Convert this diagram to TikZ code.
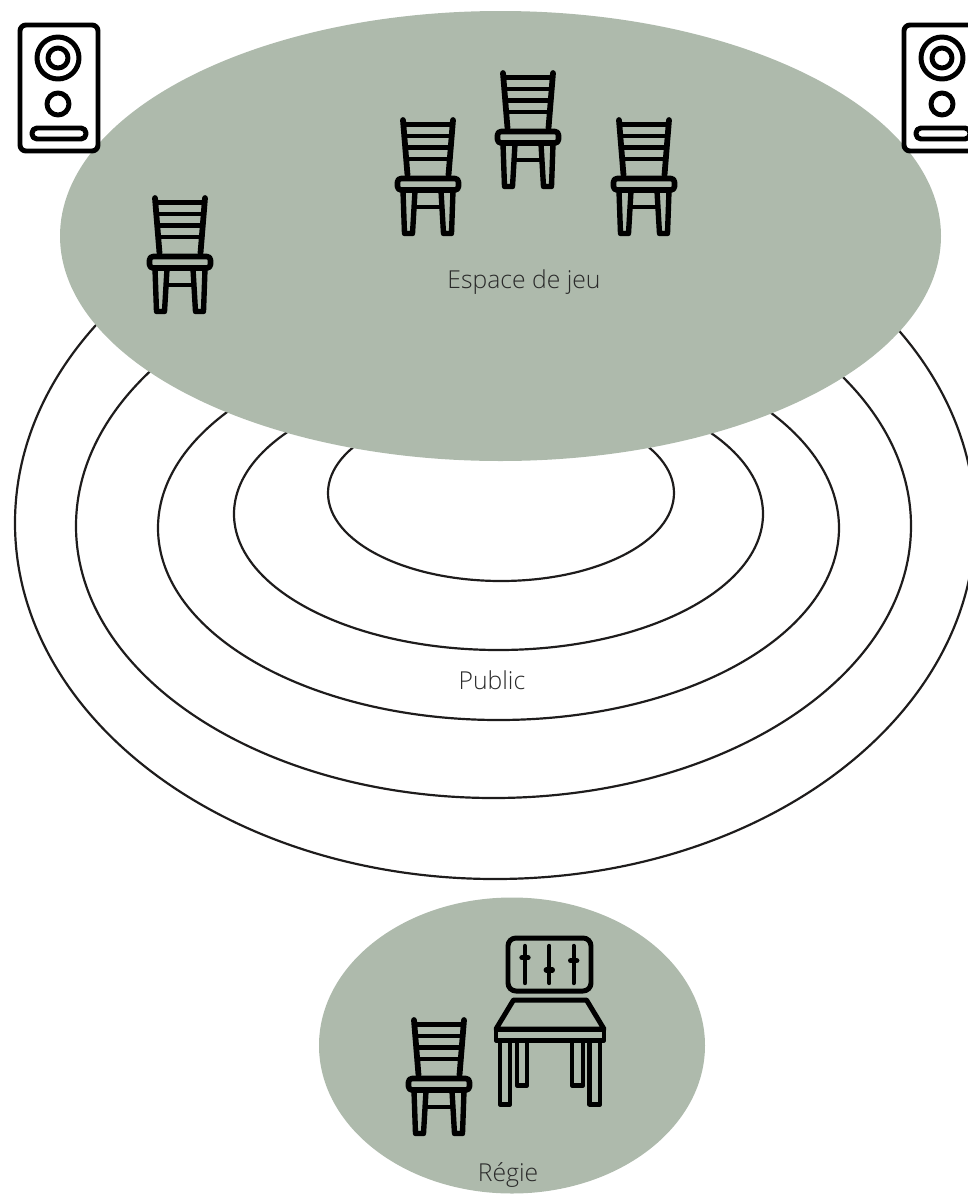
\documentclass[tikz,border=0pt]{standalone}
\usepackage{fontspec}
\setmainfont{Open Sans Light}
\definecolor{sage}{HTML}{AEBAAC}
\definecolor{labelgrey}{HTML}{2A2A2A}
\definecolor{ringink}{HTML}{1E1C1C}
\tikzset{
  ring/.style={draw=ringink,line width=2.2pt,fill=none},
  zone/.style={fill=sage,draw=none},
  icon/.style={draw=black,line width=5pt,line join=round,line cap=round},
  thinicon/.style={draw=black,line width=4.4pt,line join=round,line cap=round},
  lab/.style={text=labelgrey,font=\fontsize{24.8}{29}\selectfont,inner sep=0pt},
  chair/.pic={
    \draw[icon,line width=5.8pt] (-25,1) -- (-20.5,56);
    \draw[icon,line width=5.8pt] (25,1) -- (20.5,56);
    \draw[thinicon,line cap=butt] (-24.5,5.5) -- (24.5,5.5);
    \draw[thinicon,line cap=butt] (-23.5,17) -- (23.5,17);
    \draw[thinicon,line cap=butt] (-23,28.5) -- (23,28.5);
    \draw[thinicon,line cap=butt] (-22,40) -- (22,40);
    \draw[icon,line width=5.6pt,rounded corners=3.5pt] (-30.5,71) -- (-30.5,59.5) -- (30.5,59.5) -- (30.5,71) -- cycle;
    \draw[icon,line width=5.4pt] (-25,72) -- (-23.5,114.5) -- (-15.5,114.5) -- (-13,72);
    \draw[icon,line width=5.4pt] (25,72) -- (23.5,114.5) -- (15.5,114.5) -- (13,72);
    \draw[icon,line width=4.4pt,line cap=butt] (-13.5,88) -- (13.5,88);
  },
  speaker/.pic={
    \draw[icon,rounded corners=6pt] (20,25) rectangle (98,151);
    \draw[icon] (58,58) circle[radius=21];
    \draw[icon] (58,58) circle[radius=10];
    \draw[icon] (58,104) circle[radius=11];
    \draw[icon,rounded corners=5pt] (32,128) rectangle (86,139);
  },
}
\begin{document}
\begin{tikzpicture}[x=1bp,y=-1bp]
\useasboundingbox (0,0) rectangle (968,1195);
\clip (0,0) rectangle (968,1195);
% audience rings
\draw[ring] (495,523) ellipse[x radius=480,y radius=356];
\draw[ring] (493.5,526) ellipse[x radius=417.5,y radius=272];
\draw[ring] (498.5,528) ellipse[x radius=340.5,y radius=192];
\draw[ring] (498.5,514) ellipse[x radius=264.5,y radius=136];
\draw[ring] (501,493) ellipse[x radius=173,y radius=88];
% zones
\fill[zone] (500.5,236) ellipse[x radius=440.5,y radius=225];
\fill[zone] (512,1045.5) ellipse[x radius=193,y radius=148];
% chairs
\pic at (180,197) {chair};
\pic at (428,119) {chair};
\pic at (528,72) {chair};
\pic at (644,119) {chair};
\pic at (439,1019) {chair};
% speakers
\pic at (0,0) {speaker};
\pic at (884,0) {speaker};
% mixer
\draw[icon,rounded corners=8pt] (508,938) rectangle (591,991);
\draw[thinicon] (525,946) -- (525,983);
\draw[thinicon] (549.3,946) -- (549.3,983);
\draw[thinicon] (573.7,946) -- (573.7,983);
\draw[icon,line width=5.4pt] (522,957.7) -- (528,957.7);
\draw[icon,line width=5.4pt] (546.3,970) -- (552.3,970);
\draw[icon,line width=5.4pt] (570.7,960.7) -- (576.7,960.7);
% table
\draw[icon] (513.5,1000) -- (586.5,1000) -- (604,1029) -- (496,1029) -- cycle;
\draw[icon] (496,1029) rectangle (604,1040);
\draw[icon] (500,1041) -- (500,1104) -- (510,1104) -- (510,1041);
\draw[icon] (517,1041) -- (517,1085) -- (527,1085) -- (527,1041);
\draw[icon] (572,1041) -- (572,1085) -- (583,1085) -- (583,1041);
\draw[icon] (589.5,1041) -- (589.5,1104) -- (600,1104) -- (600,1041);
% labels
\node[lab] (jeu) at (524,282) {Espace de jeu};
\node[lab] (public) at (492,680) {Public};
\node[lab] (regie) at (508,1175) {Régie};
\end{tikzpicture}
\end{document}
